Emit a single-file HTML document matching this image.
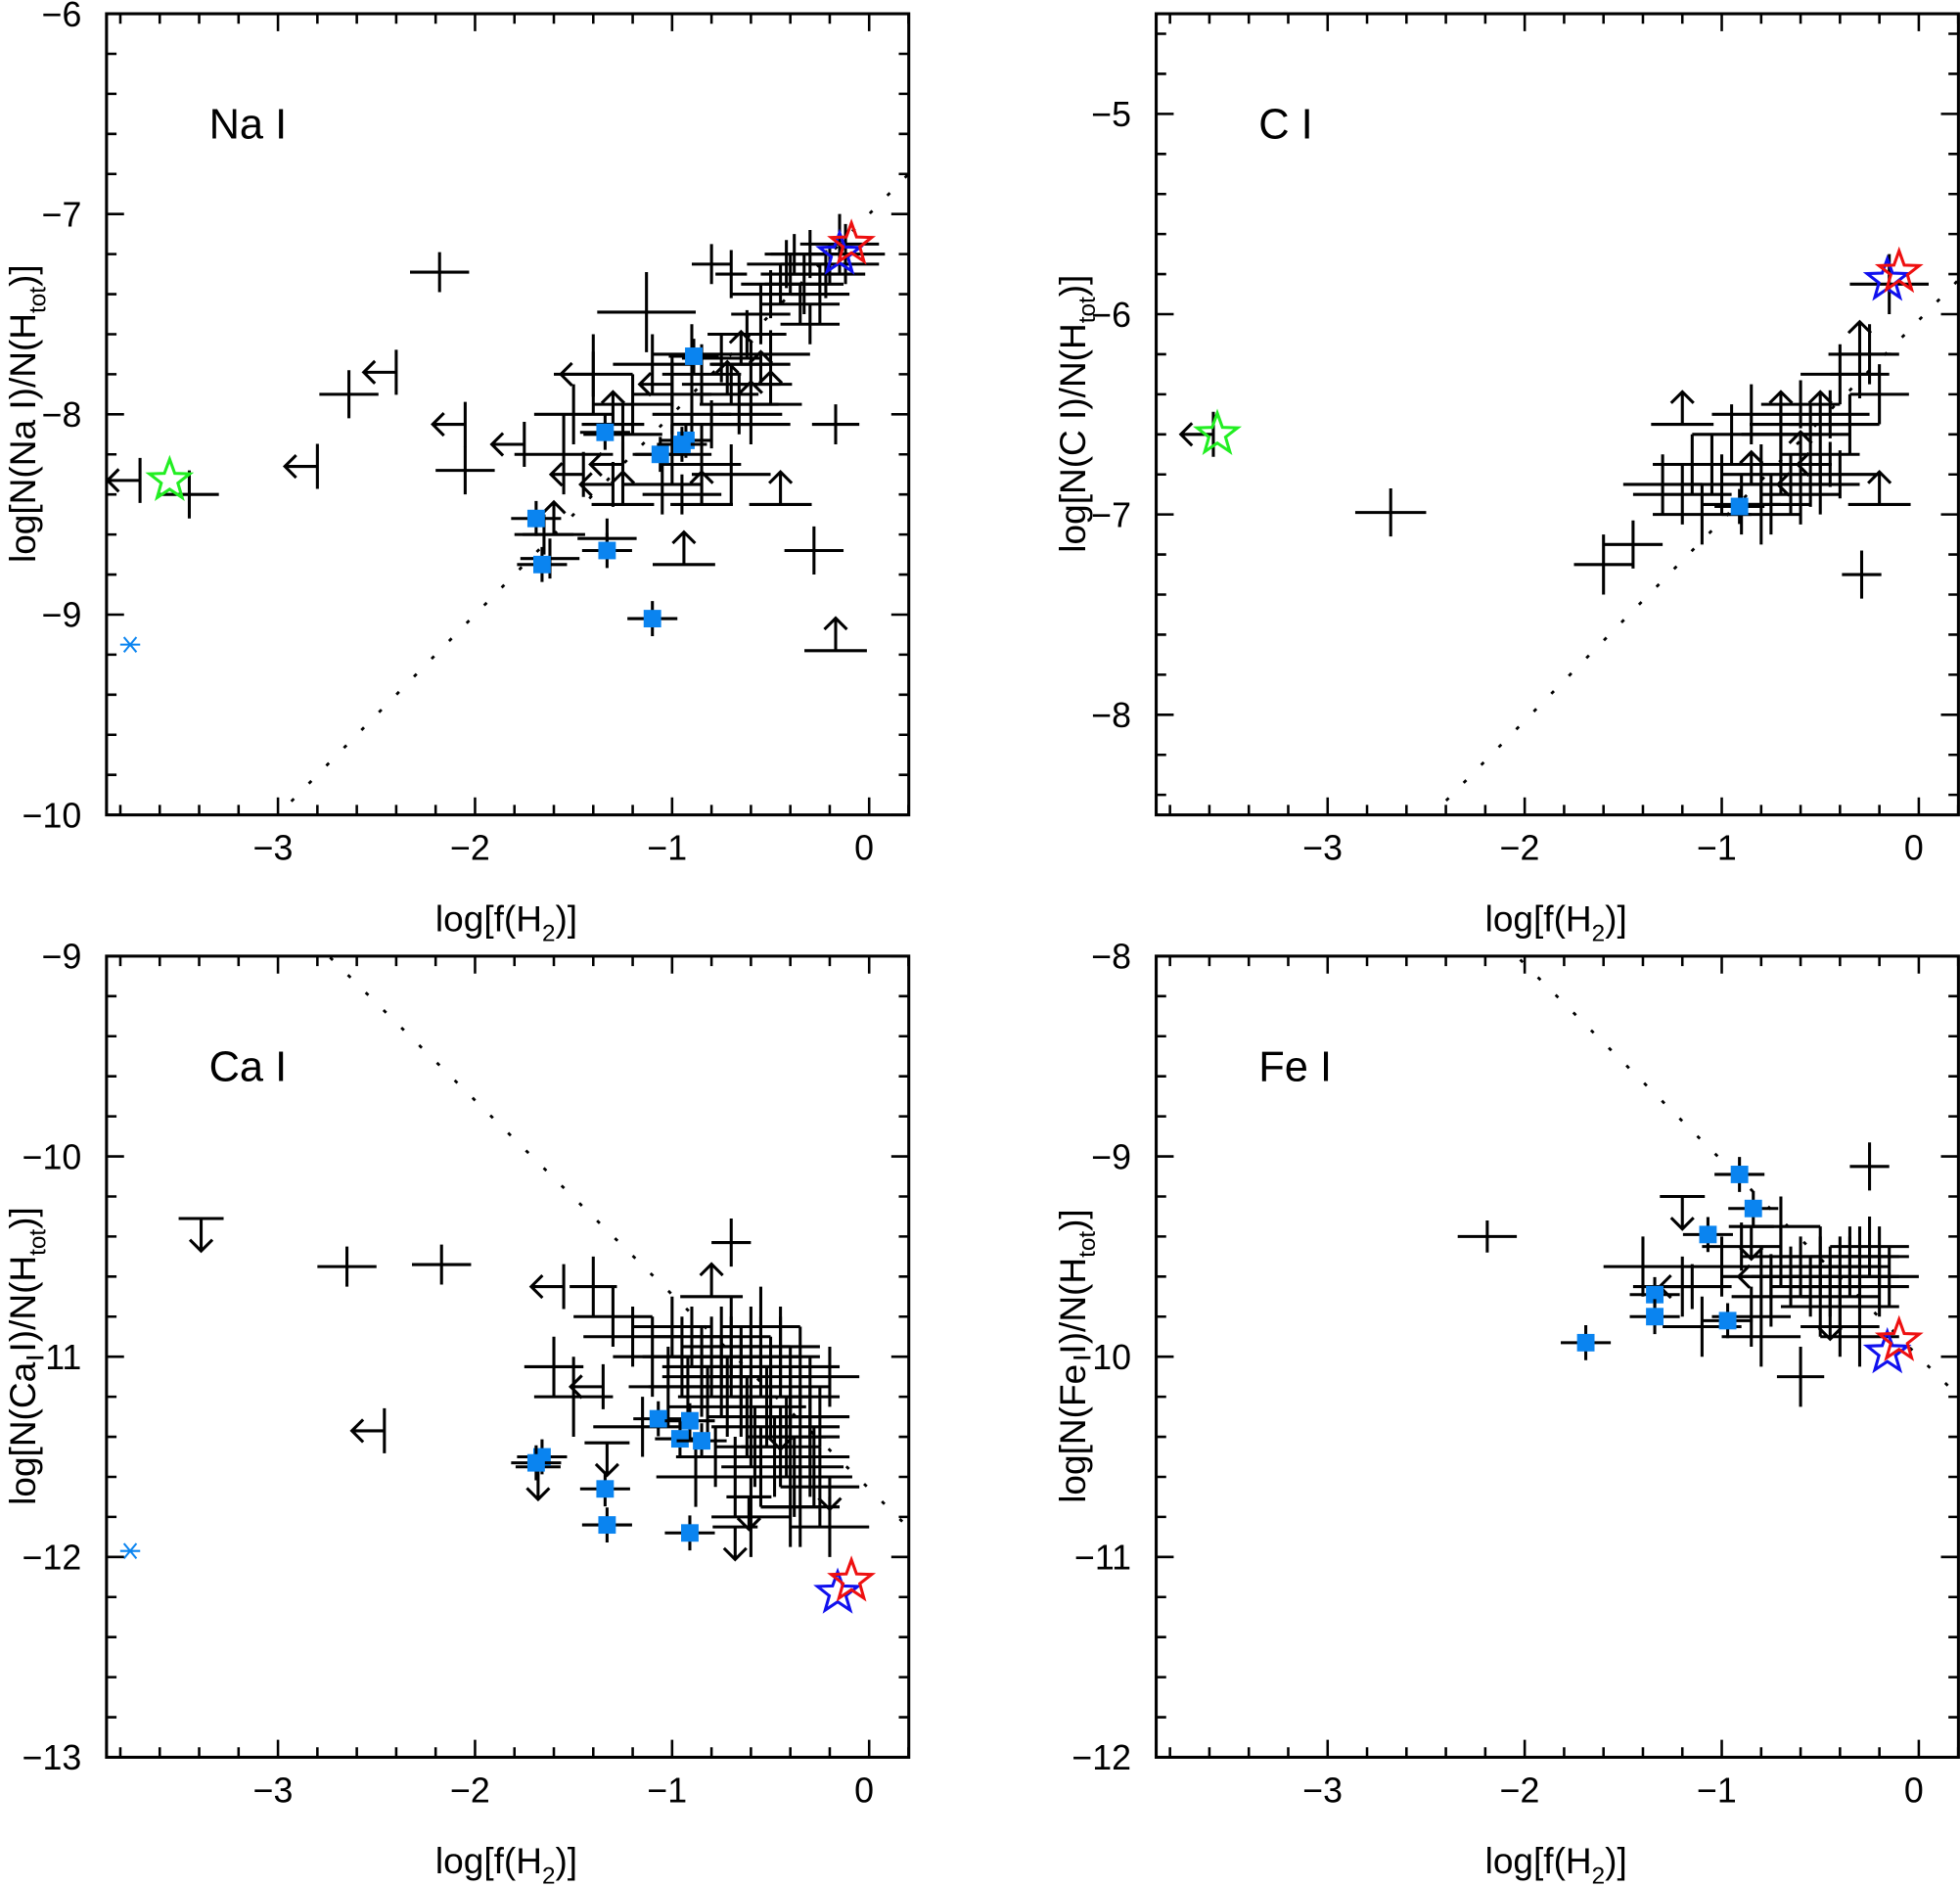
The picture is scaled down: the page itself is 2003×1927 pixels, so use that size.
<!DOCTYPE html>
<html><head><meta charset="utf-8"><style>
html,body{margin:0;padding:0;background:#fff}
svg{display:block}
text{font-family:"Liberation Sans",sans-serif;fill:#000}
</style></head><body>
<svg id="chart" width="2003" height="1927" viewBox="0 0 1568 1509" xmlns="http://www.w3.org/2000/svg"></svg>
<script>
// ---------- Panel 1: Na I ----------
const naX  = [-2.18,-2.64,-2.05,-3.45,-1.13,-0.17,-0.28,-0.8,-0.7,-0.4,-0.3,-0.25,-0.2,-0.45,-0.35,-0.55,-0.15,-0.5,-0.75,-0.85,-0.7,-1.4,-1.2,-1.5,-1.0,-0.9,-0.6,-1.25,-1.55,-1.0,-0.85,-0.8,-1.05,-0.95,-0.7,-1.65,-0.62,-0.3,-0.12,-1.1,-1.62,-1.33,-0.66,-0.42,-0.33,-0.22,-0.38,-0.5,-0.9,-0.6];
const naY  = [-7.29,-7.9,-8.28,-8.4,-7.49,-8.05,-8.68,-7.25,-7.3,-7.3,-7.2,-7.4,-7.25,-7.35,-7.45,-7.5,-7.15,-7.7,-7.72,-7.8,-7.85,-7.8,-7.95,-8.0,-7.9,-8.0,-8.05,-8.1,-8.2,-8.2,-8.25,-8.05,-8.35,-8.4,-8.3,-8.6,-7.6,-7.55,-7.2,-7.75,-8.72,-8.62,-7.95,-7.25,-7.35,-7.3,-7.2,-7.4,-7.7,-7.75];
const naXE = [0.15,0.15,0.15,0.15,0.25,0.12,0.15,0.1,0.08,0.15,0.2,0.15,0.25,0.2,0.2,0.15,0.2,0.2,0.2,0.2,0.25,0.2,0.2,0.2,0.2,0.2,0.2,0.2,0.25,0.2,0.2,0.2,0.2,0.2,0.2,0.15,0.2,0.15,0.2,0.2,0.15,0.15,0.2,0.2,0.2,0.2,0.15,0.2,0.2,0.2];
const naYE = [0.1,0.12,0.12,0.12,0.2,0.1,0.12,0.1,0.12,0.1,0.12,0.15,0.1,0.1,0.1,0.15,0.15,0.12,0.12,0.15,0.1,0.2,0.15,0.15,0.2,0.15,0.1,0.15,0.2,0.15,0.2,0.12,0.15,0.1,0.15,0.1,0.12,0.1,0.15,0.15,0.1,0.1,0.15,0.12,0.15,0.12,0.1,0.12,0.15,0.12];
const naUpX = [-0.65,-0.55,-0.5,-0.6,-1.25,-1.3,-0.85,-0.45,-0.94,-0.17,-0.72,-1.6];
const naUpY = [-7.75,-7.85,-7.95,-8.0,-8.45,-8.05,-8.45,-8.45,-8.75,-9.18,-7.9,-8.6];
const naLeftX = [-2.4,-2.05,-2.8,-3.7,-1.75,-1.45,-1.4,-1.3,-1.0,-1.25];
const naLeftY = [-7.79,-8.05,-8.26,-8.33,-8.15,-8.3,-7.8,-8.35,-7.85,-8.25];
const naSqX = [-1.34,-1.06,-0.93,-0.89,-1.69,-1.66,-1.33,-1.1,-0.95];
const naSqY = [-8.09,-8.2,-8.13,-7.71,-8.52,-8.75,-8.68,-9.02,-8.15];
const naStars = [[-3.55,-8.33,'#22ee22'],[-0.15,-7.2,'#1010ee'],[-0.09,-7.15,'#ee1010']];
const naAst = [[-3.75,-9.15]];

// ---------- Panel 2: C I ----------
const cX  = [-2.68,-0.15,-0.29,-1.6,-1.45,-1.3,-1.2,-1.1,-1.0,-0.9,-0.8,-0.7,-0.6,-0.5,-0.4,-0.3,-0.2,-0.75,-0.65,-0.55,-0.45,-0.85,-1.05,-0.95,-0.35,-0.25,-0.7,-0.5,-1.15,-0.6,-0.8,-0.4];
const cY  = [-6.99,-5.85,-7.3,-7.25,-7.15,-6.85,-6.9,-7.0,-6.85,-6.95,-6.8,-6.75,-6.9,-6.7,-6.3,-6.3,-6.4,-6.95,-6.85,-6.6,-6.5,-6.5,-6.75,-6.6,-6.55,-6.2,-6.6,-6.85,-6.75,-6.45,-7.0,-6.8];
const cXE = [0.18,0.2,0.1,0.15,0.15,0.2,0.25,0.25,0.2,0.2,0.2,0.2,0.2,0.2,0.2,0.15,0.15,0.2,0.2,0.2,0.2,0.2,0.25,0.2,0.15,0.15,0.2,0.2,0.2,0.2,0.2,0.2];
const cYE = [0.12,0.15,0.12,0.15,0.12,0.15,0.15,0.15,0.15,0.15,0.15,0.15,0.15,0.15,0.15,0.12,0.15,0.15,0.15,0.15,0.12,0.15,0.15,0.15,0.15,0.15,0.15,0.15,0.15,0.12,0.15,0.12];
const cUpX = [-0.2,-1.2,-0.7,-0.5,-0.85,-0.6,-0.3];
const cUpY = [-6.95,-6.55,-6.55,-6.55,-6.85,-6.75,-6.2];
const cLeftX = [-3.58,-0.45,-0.55];
const cLeftY = [-6.6,-6.75,-6.85];
const cSqX = [-0.91];
const cSqY = [-6.96];
const cStars = [[-3.56,-6.6,'#22ee22'],[-0.16,-5.83,'#1010ee'],[-0.1,-5.79,'#ee1010']];

// ---------- Panel 3: Ca I ----------
const caX  = [-2.65,-2.17,-0.7,-1.4,-1.6,-1.5,-1.3,-1.2,-1.1,-1.0,-0.9,-0.85,-0.8,-0.75,-0.7,-0.65,-0.6,-0.55,-0.5,-0.45,-0.4,-0.35,-0.3,-0.25,-0.2,-0.62,-0.52,-0.42,-0.72,-0.82,-0.92,-1.02,-0.58,-0.48,-0.38,-0.28,-0.68,-0.78,-0.35,-0.2,-0.88,-1.15,-0.45,-0.3,-0.4,-0.6,-0.55,-0.65,-0.75,-0.5,-0.4,-0.6,-0.7,-0.45,-0.35,-0.55,-0.85,-0.95,-0.3,-0.25];
const caY  = [-10.55,-10.54,-10.43,-10.65,-11.05,-11.2,-10.8,-10.9,-11.0,-10.85,-10.9,-11.1,-11.0,-10.95,-10.9,-11.05,-10.95,-11.0,-11.1,-11.0,-11.15,-11.05,-11.2,-11.3,-11.1,-11.3,-11.25,-11.4,-11.2,-11.25,-11.15,-11.15,-11.45,-11.5,-11.6,-11.55,-11.6,-11.5,-11.75,-11.85,-11.6,-11.35,-10.95,-11.35,-11.75,-11.8,-10.85,-11.15,-11.1,-11.2,-11.3,-11.35,-11.0,-11.45,-11.4,-11.55,-11.05,-11.0,-11.5,-11.65];
const caXE = [0.15,0.15,0.1,0.12,0.15,0.2,0.2,0.25,0.2,0.2,0.2,0.2,0.2,0.2,0.2,0.2,0.2,0.2,0.2,0.2,0.2,0.2,0.15,0.15,0.15,0.2,0.2,0.2,0.25,0.2,0.2,0.2,0.2,0.2,0.2,0.15,0.2,0.2,0.2,0.2,0.2,0.25,0.2,0.15,0.15,0.2,0.2,0.2,0.2,0.2,0.2,0.2,0.2,0.2,0.2,0.2,0.2,0.2,0.2,0.2];
const caYE = [0.1,0.1,0.12,0.15,0.15,0.2,0.15,0.15,0.2,0.15,0.15,0.2,0.2,0.2,0.2,0.2,0.2,0.2,0.2,0.2,0.2,0.2,0.2,0.15,0.15,0.2,0.2,0.2,0.2,0.2,0.15,0.2,0.2,0.2,0.2,0.2,0.2,0.15,0.2,0.15,0.15,0.15,0.2,0.2,0.2,0.2,0.2,0.25,0.2,0.2,0.25,0.2,0.2,0.2,0.25,0.2,0.2,0.2,0.2,0.2];
const caUpX = [-0.8];
const caUpY = [-10.7];
const caDownX = [-3.39,-1.33,-0.61,-0.68,-0.2,-1.68,-0.45];
const caDownY = [-10.31,-11.43,-11.7,-11.85,-11.6,-11.55,-11.3];
const caLeftX = [-2.46,-1.55,-1.35];
const caLeftY = [-11.37,-10.65,-11.15];
const caSqX = [-1.66,-1.69,-1.34,-1.07,-0.91,-0.96,-0.85,-1.33,-0.91];
const caSqY = [-11.5,-11.53,-11.66,-11.31,-11.32,-11.41,-11.42,-11.84,-11.88];
const caStars = [[-0.16,-12.18,'#1010ee'],[-0.09,-12.12,'#ee1010']];
const caAst = [[-3.75,-11.97]];

// ---------- Panel 4: Fe I ----------
const feX  = [-2.19,-0.25,-0.15,-0.3,-1.4,-1.2,-1.0,-0.9,-0.8,-0.7,-0.6,-0.5,-0.45,-0.4,-0.35,-0.3,-0.2,-0.55,-0.65,-0.75,-0.85,-1.1,-0.5,-0.4,-0.3,-0.6,-0.8,-0.7,-0.35,-0.45,-0.25,-0.5,-0.4,-0.2,-0.3];
const feY  = [-9.4,-9.05,-9.6,-9.9,-9.55,-9.65,-9.55,-9.45,-9.6,-9.5,-9.55,-9.5,-9.6,-9.55,-9.5,-9.6,-9.5,-9.65,-9.6,-9.7,-9.8,-9.85,-9.75,-9.85,-9.75,-10.1,-9.9,-9.35,-9.55,-9.65,-9.45,-9.55,-9.7,-9.65,-9.5];
const feXE = [0.15,0.1,0.15,0.2,0.2,0.25,0.2,0.2,0.2,0.2,0.2,0.2,0.2,0.2,0.2,0.2,0.15,0.2,0.2,0.2,0.2,0.2,0.2,0.2,0.2,0.12,0.2,0.2,0.2,0.2,0.2,0.2,0.2,0.15,0.2];
const feYE = [0.08,0.12,0.15,0.15,0.15,0.15,0.15,0.12,0.15,0.15,0.15,0.15,0.15,0.15,0.15,0.15,0.15,0.15,0.15,0.15,0.15,0.15,0.15,0.15,0.12,0.15,0.15,0.15,0.15,0.15,0.15,0.15,0.15,0.15,0.15];
const feDownX = [-1.2,-0.85,-0.45];
const feDownY = [-9.2,-9.35,-9.75];
const feLeftX = [-1.15,-0.75];
const feLeftY = [-9.65,-9.6];
const feSqX = [-0.91,-0.84,-1.07,-1.34,-1.34,-0.97,-1.69];
const feSqY = [-9.09,-9.26,-9.39,-9.69,-9.8,-9.82,-9.93];
const feStars = [[-0.16,-9.98,'#1010ee'],[-0.1,-9.92,'#ee1010']];

const svg = document.getElementById('chart');
const NS = 'http://www.w3.org/2000/svg';
function mk(tag, attrs, parent){ const e=document.createElementNS(NS,tag); for(const k in attrs) e.setAttribute(k,attrs[k]); (parent||svg).appendChild(e); return e; }

function panel(cfg){
  const g = mk('g',{});
  
  
  const L=cfg.l,R=cfg.l+642,T=cfg.t,B=cfg.t+641;
  const xs = v => L + (v - (-3.87)) * 157.7;
  const ys = v => T + (cfg.ymax - v) * 160.25;
  const clip = 'clip-'+cfg.name;
  const cp = mk('clipPath',{id:clip},g); mk('rect',{x:L,y:T,width:R-L,height:B-T},cp);
  const dg = mk('g',{'clip-path':'url(#'+clip+')'},g);
  const dl = mk('line',{x1:xs(-4),y1:ys(cfg.line[0]+cfg.line[1]*-4),x2:xs(0.3),y2:ys(cfg.line[0]+cfg.line[1]*0.3),stroke:'#000','stroke-width':2.2,'stroke-dasharray':'3 17'},dg);
  
  
  const S={stroke:'#000','stroke-width':2.4,fill:'none'};
  function crosses(X,Y,XE,YE){ for(let i=0;i<X.length;i++){ const p=mk('path',Object.assign({d:`M${xs(X[i]-XE[i])},${ys(Y[i])}H${xs(X[i]+XE[i])}M${xs(X[i])},${ys(Y[i]-YE[i])}V${ys(Y[i]+YE[i])}`},S),dg);
    
     } }
  crosses(cfg.X,cfg.Y,cfg.XE,cfg.YE);
  (cfg.up||[[],[]])[0].forEach((x,i)=>{ const y=cfg.up[1][i]; const px=xs(x),py=ys(y);
    const p=mk('path',Object.assign({d:`M${px-25},${py}H${px+25}M${px},${py}V${py-26}M${px-9},${py-17}L${px},${py-26}L${px+9},${py-17}`},S),dg);
    
     });
  (cfg.down||[[],[]])[0].forEach((x,i)=>{ const y=cfg.down[1][i]; const px=xs(x),py=ys(y);
    const p=mk('path',Object.assign({d:`M${px-18},${py}H${px+18}M${px},${py}V${py+26}M${px-9},${py+17}L${px},${py+26}L${px+9},${py+17}`},S),dg);
    
     });
  (cfg.left||[[],[]])[0].forEach((x,i)=>{ const y=cfg.left[1][i]; const px=xs(x),py=ys(y);
    const p=mk('path',Object.assign({d:`M${px},${py-18}V${py+18}M${px},${py}H${px-26}M${px-17},${py-9}L${px-26},${py}L${px-17},${py+9}`},S),dg);
    
     });
  cfg.sqX.forEach((x,i)=>{ const px=xs(x),py=ys(cfg.sqY[i]);
    const p=mk('path',Object.assign({d:`M${px-20},${py}H${px+20}M${px},${py-14}V${py+14}`},S),dg);
    
    
    const r=mk('rect',{x:px-7,y:py-7,width:14,height:14,fill:'#0a84f0'},dg);
    
     });
  (cfg.ast||[]).forEach(a=>{ const px=xs(a[0]),py=ys(a[1]);
    const p=mk('path',{d:`M${px-8},${py}H${px+8}M${px-5},${py-6}L${px+5},${py+6}M${px-5},${py+6}L${px+5},${py-6}`,stroke:'#0a84f0','stroke-width':1.6,fill:'none'},dg);
    
     });
  cfg.stars.forEach(s=>{ const px=xs(s[0]),py=ys(s[1]); let d='';
    for(let k=0;k<10;k++){ const r=k%2?7:17, a=-Math.PI/2+k*Math.PI/5; d+=(k?'L':'M')+(px+r*Math.cos(a)).toFixed(1)+','+(py+r*Math.sin(a)).toFixed(1);} 
    const p=mk('path',{d:d+'Z',stroke:s[2],'stroke-width':2.4,fill:'none'},dg);
    
     });
  const fr=mk('rect',{x:L,y:T,width:R-L,height:B-T,fill:'none',stroke:'#000','stroke-width':2.4},g);
  
  
  let td='';
  for(let i=-19;i<=1;i++){ const v=i*0.2; const px=xs(v); if(px<L||px>R) continue; const len=(Math.abs(v-Math.round(v))<1e-6)?14:8; td+=`M${px},${B}V${B-len}M${px},${T}V${T+len}`; }
  for(let i=Math.round(cfg.ymin*5);i<=Math.round(cfg.ymax*5);i++){ const v=i/5; const py=ys(v); const len=(i%5===0)?14:8; td+=`M${L},${py}H${L+len}M${R},${py}H${R-len}`; }
  const tk=mk('path',{d:td,stroke:'#000','stroke-width':2,fill:'none'},g);
  
  
  [-3,-2,-1,0].forEach(v=>{ const t=mk('text',{x:xs(v)-4,y:B+36,'font-size':28,'text-anchor':'middle'},g); t.textContent=(v<0?'−':'')+Math.abs(v);
    
     });
  for(let v=Math.ceil(cfg.ymin);v<=Math.floor(cfg.ymax);v++){ const t=mk('text',{x:L-20,y:ys(v)+10,'font-size':28,'text-anchor':'end'},g); t.textContent='−'+Math.abs(v);
    
     }
  const xt=mk('text',{x:L+320,y:B+93,'font-size':29,'text-anchor':'middle'},g);
  xt.innerHTML='log[f(H<tspan font-size="19" dy="8">2</tspan><tspan dy="-8">)]</tspan>';
  
  
  const yt=mk('text',{x:0,y:0,'font-size':29,'text-anchor':'middle',transform:`translate(${L-57},${T+320}) rotate(-90)`},g);
  yt.innerHTML=`log[N(${cfg.ion})/N(H<tspan font-size="19" dy="8">tot</tspan><tspan dy="-8">)]</tspan>`;
  
  
  const lab=mk('text',{x:L+82,y:T+100,'font-size':34},g);
  lab.textContent=cfg.label;
  
  
}

panel({name:'na-i',l:85,t:11,ymin:-10,ymax:-6,line:[-7.0,1.0],ion:'Na  I',label:'Na   I',X:naX,Y:naY,XE:naXE,YE:naYE,up:[naUpX,naUpY],left:[naLeftX,naLeftY],sqX:naSqX,sqY:naSqY,stars:naStars,ast:naAst});
panel({name:'c-i',l:925,t:11,ymin:-8.5,ymax:-4.5,line:[-6.03,1.0],ion:'C  I',label:'C   I',X:cX,Y:cY,XE:cXE,YE:cYE,up:[cUpX,cUpY],left:[cLeftX,cLeftY],sqX:cSqX,sqY:cSqY,stars:cStars});
panel({name:'ca-i',l:85,t:765,ymin:-13,ymax:-9,line:[-11.66,-0.97],ion:'Ca  I',label:'Ca   I',X:caX,Y:caY,XE:caXE,YE:caYE,up:[caUpX,caUpY],down:[caDownX,caDownY],left:[caLeftX,caLeftY],sqX:caSqX,sqY:caSqY,stars:caStars,ast:caAst});
panel({name:'fe-i',l:925,t:765,ymin:-12,ymax:-8,line:[-10.0,-0.98],ion:'Fe  I',label:'Fe   I',X:feX,Y:feY,XE:feXE,YE:feYE,down:[feDownX,feDownY],left:[feLeftX,feLeftY],sqX:feSqX,sqY:feSqY,stars:feStars});
</script>
</body></html>
